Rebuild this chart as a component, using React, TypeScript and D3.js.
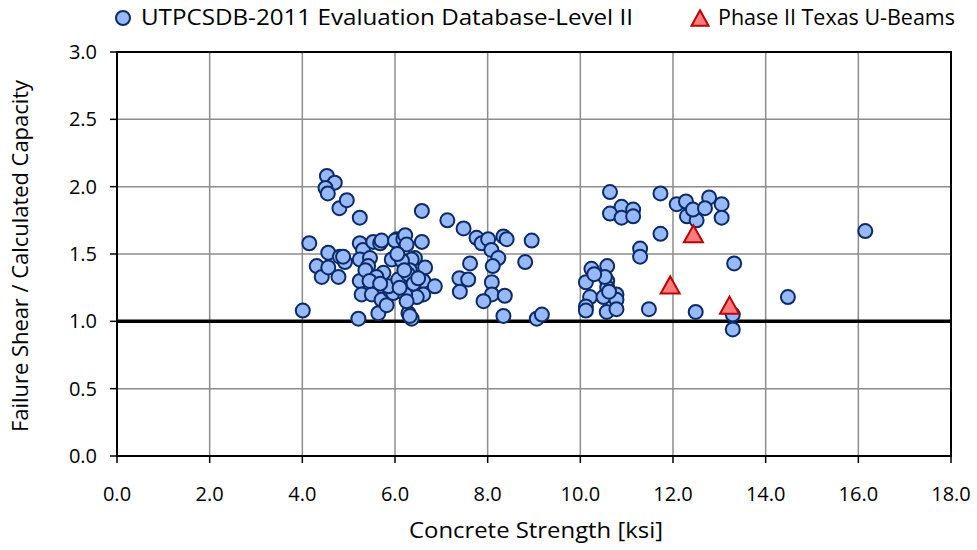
import React from "react";
import * as d3 from "d3";

const blueStrength = [
  4.01, 4.15, 4.31, 4.42, 4.53, 4.70, 4.50, 4.55, 4.56, 4.56, 4.78, 4.81, 4.92, 4.80, 4.96, 5.24, 4.88,
  5.21, 5.24, 5.31, 5.24, 5.46, 5.53, 5.68, 5.71, 5.24, 5.28, 5.50, 5.42, 5.64, 5.75, 5.71, 5.89, 5.82, 5.93, 5.96, 5.86, 5.36, 5.60, 5.45, 5.68,
  6.04, 6.00, 6.18, 6.22, 6.25, 6.58, 6.58, 6.43, 6.36, 6.32, 6.65, 6.61, 6.61, 6.86, 6.47, 6.22, 6.07, 6.28, 6.29, 6.36, 6.32, 6.15, 6.10, 6.40, 6.50, 6.25, 6.05, 6.20,
  7.13, 7.48, 7.76, 7.87, 8.01, 8.34, 8.41, 8.95, 8.08, 8.23, 8.11, 8.81, 7.62, 7.39, 7.58, 7.40, 8.09, 8.09, 8.37, 7.91, 8.34, 9.06, 9.17,
  10.64, 10.89, 11.14, 10.64, 10.89, 11.14, 11.73, 11.73, 11.29, 11.29, 10.24, 10.58, 10.12, 10.58, 10.58, 10.21, 10.50, 10.78, 10.78, 10.12, 10.12, 10.57, 10.78, 11.48, 10.53, 10.30, 10.62,
  12.08, 12.28, 12.30, 12.51, 12.43, 12.78, 12.69, 13.05, 13.05, 13.32, 12.49, 13.29, 13.29, 14.48, 16.15,
];
const blueRatio = [
  1.08, 1.58, 1.41, 1.33, 2.08, 2.03, 1.99, 1.95, 1.51, 1.40, 1.33, 1.48, 1.44, 1.84, 1.90, 1.77, 1.48,
  1.02, 1.58, 1.53, 1.46, 1.47, 1.59, 1.58, 1.60, 1.30, 1.20, 1.20, 1.41, 1.06, 1.36, 1.16, 1.23, 1.12, 1.46, 1.21, 1.26, 1.38, 1.33, 1.30, 1.28,
  1.61, 1.60, 1.61, 1.64, 1.57, 1.82, 1.59, 1.47, 1.46, 1.38, 1.40, 1.30, 1.20, 1.26, 1.18, 1.20, 1.31, 1.35, 1.06, 1.02, 1.04, 1.45, 1.25, 1.28, 1.32, 1.15, 1.50, 1.38,
  1.75, 1.69, 1.62, 1.58, 1.61, 1.63, 1.61, 1.60, 1.53, 1.47, 1.41, 1.44, 1.43, 1.32, 1.31, 1.22, 1.29, 1.20, 1.19, 1.15, 1.04, 1.02, 1.05,
  1.96, 1.85, 1.83, 1.80, 1.77, 1.78, 1.95, 1.65, 1.54, 1.48, 1.39, 1.41, 1.29, 1.30, 1.25, 1.18, 1.18, 1.20, 1.16, 1.11, 1.08, 1.07, 1.09, 1.09, 1.33, 1.35, 1.22,
  1.87, 1.89, 1.78, 1.75, 1.83, 1.92, 1.84, 1.87, 1.77, 1.43, 1.07, 1.05, 0.94, 1.18, 1.67,
];
const redStrength = [11.94, 12.44, 13.22];
const redRatio = [1.27, 1.65, 1.12];

const xTicks = [0, 2, 4, 6, 8, 10, 12, 14, 16, 18];
const yTicks = [0, 0.5, 1, 1.5, 2, 2.5, 3];
const blueLabel = "UTPCSDB-2011 Evaluation Database-Level II";
const redLabel = "Phase II Texas U-Beams";
const xTitle = "Concrete Strength [ksi]";
const yTitle = "Failure Shear / Calculated Capacity";

const FONT = "'Open Sans', Lato, sans-serif";
const BLUE_FILL = "#97B9F7";
const BLUE_STROKE = "#0B2A66";
const RED_FILL = "#FF7C7C";
const RED_STROKE = "#C00000";

const L = 117, R = 951, T = 52, B = 456;

function tri(cx: number, cy: number, s: number) {
  const h = s * 0.9;
  return `M${cx},${cy - h / 2}L${cx + s / 2},${cy + h / 2}L${cx - s / 2},${cy + h / 2}Z`;
}

export default function App() {
  const x = d3.scaleLinear().domain([0, 18]).range([L, R]);
  const y = d3.scaleLinear().domain([0, 3]).range([B, T]);
  const fmt = d3.format(".1f");
  const blue = blueStrength.map((s, i) => ({ s, r: blueRatio[i] }));
  const red = redStrength.map((s, i) => ({ s, r: redRatio[i] }));

  return (
    <svg width={977} height={550} style={{ position: "absolute", left: 0, top: 0, background: "#fff" }} fontFamily={FONT}>
      <rect x={0} y={0} width={977} height={550} fill="#fff" />
      {xTicks.slice(1, -1).map((t) => (
        <line key={"gx" + t} x1={x(t)} x2={x(t)} y1={T} y2={B} stroke="#8C8C8C" strokeWidth={1.5} />
      ))}
      {yTicks.slice(1, -1).map((t) => (
        <line key={"gy" + t} x1={L} x2={R} y1={y(t)} y2={y(t)} stroke="#8C8C8C" strokeWidth={1.5} />
      ))}
      <rect x={L} y={T} width={R - L} height={B - T} fill="none" stroke="#000" strokeWidth={2} />
      {yTicks.map((t) => (
        <g key={"ty" + t}>
          <line x1={L - 7} x2={L} y1={y(t)} y2={y(t)} stroke="#000" strokeWidth={1.5} />
          <text x={L - 20} y={y(t) + 7} textAnchor="end" fontSize={20} fill="#000">{fmt(t)}</text>
        </g>
      ))}
      {xTicks.map((t) => (
        <g key={"tx" + t}>
          <line x1={x(t)} x2={x(t)} y1={B} y2={B + 7} stroke="#000" strokeWidth={1.5} />
          <text x={x(t)} y={B + 45} textAnchor="middle" fontSize={20} fill="#000">{fmt(t)}</text>
        </g>
      ))}
      <line x1={L} x2={R} y1={y(1)} y2={y(1)} stroke="#000" strokeWidth={3.5} />
      {blue.map((d, i) => (
        <circle key={"b" + i} cx={x(d.s)} cy={y(d.r)} r={7} fill={BLUE_FILL} stroke={BLUE_STROKE} strokeWidth={2} />
      ))}
      {red.map((d, i) => (
        <path key={"r" + i} d={tri(x(d.s), y(d.r), 19)} fill={RED_FILL} stroke={RED_STROKE} strokeWidth={2} />
      ))}
      <text x={(L + R) / 2 + 2} y={538} textAnchor="middle" fontSize={21} fill="#000" textLength={254} lengthAdjust="spacingAndGlyphs">{xTitle}</text>
      <text transform={`translate(28,${(T + B) / 2 + 2}) rotate(-90)`} textAnchor="middle" fontSize={21} fill="#000" textLength={352} lengthAdjust="spacingAndGlyphs">{yTitle}</text>
      <circle cx={123} cy={18} r={7} fill={BLUE_FILL} stroke={BLUE_STROKE} strokeWidth={2} />
      <text x={141} y={25} fontSize={21} fill="#000" textLength={492} lengthAdjust="spacingAndGlyphs">{blueLabel}</text>
      <path d={tri(700, 18, 17)} fill={RED_FILL} stroke={RED_STROKE} strokeWidth={2} />
      <text x={718} y={25} fontSize={21} fill="#000" textLength={237} lengthAdjust="spacingAndGlyphs">{redLabel}</text>
    </svg>
  );
}
